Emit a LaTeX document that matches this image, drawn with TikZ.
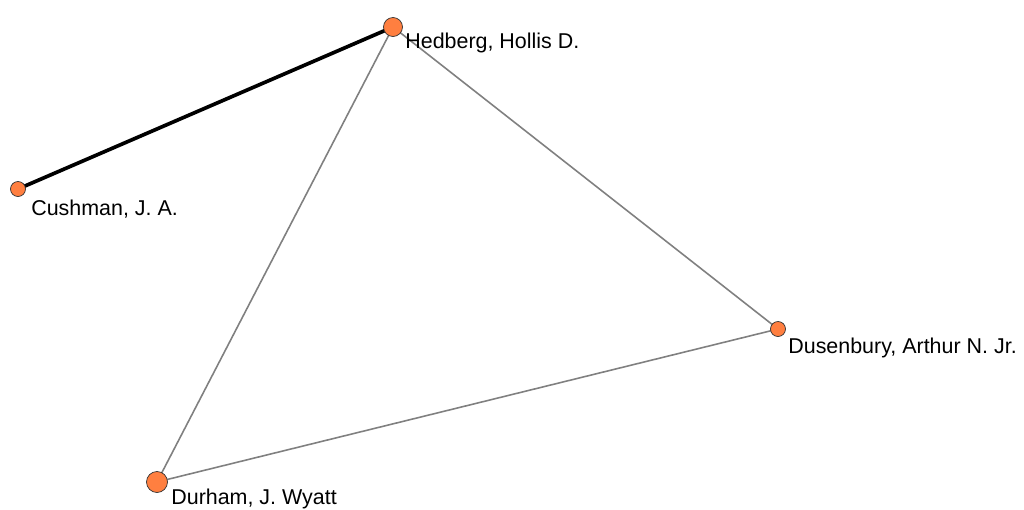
\documentclass[tikz,border=0pt]{standalone}
\usepackage{fontspec}
\setmainfont{Liberation Sans}
\definecolor{nodeOrange}{HTML}{FF7F40}
\definecolor{edgeGray}{HTML}{808080}

\begin{document}
\begin{tikzpicture}[scale=1.0, every node/.style={font=\fontsize{12.2}{14}\selectfont}]
        \useasboundingbox[fill=white] (0,0) rectangle (20.48,-10.18);

        \coordinate (hedberg) at (7.86,-0.54);
        \coordinate (cushman) at (0.36,-3.78);
        \coordinate (dusenbury) at (15.56,-6.58);
        \coordinate (durham) at (3.14,-9.64);

        % Arestas da rede.
        \draw[black, line width=2.1pt] (hedberg) -- (cushman);
        \draw[edgeGray, line width=0.9pt] (hedberg) -- (dusenbury);
        \draw[edgeGray, line width=0.9pt] (hedberg) -- (durham);
        \draw[edgeGray, line width=0.9pt] (dusenbury) -- (durham);

        % Vertices.
        \filldraw[fill=nodeOrange, draw=black!80, line width=0.4pt] (hedberg) circle (0.19);
        \filldraw[fill=nodeOrange, draw=black!80, line width=0.4pt] (cushman) circle (0.15);
        \filldraw[fill=nodeOrange, draw=black!80, line width=0.4pt] (dusenbury) circle (0.15);
        \filldraw[fill=nodeOrange, draw=black!80, line width=0.4pt] (durham) circle (0.21);

        % Rotulos.
        \node[anchor=west, inner sep=0] (hedbergLabel) at (8.10,-0.86) {Hedberg, Hollis D.};
        \node[anchor=west, inner sep=0] (cushmanLabel) at (0.62,-4.18) {Cushman, J. A.};
        \node[anchor=west, inner sep=0] (dusenburyLabel) at (15.76,-6.96) {Dusenbury, Arthur N. Jr.};
        \node[anchor=west, inner sep=0] (durhamLabel) at (3.42,-9.98) {Durham, J. Wyatt};
    \end{tikzpicture}
\end{document}
